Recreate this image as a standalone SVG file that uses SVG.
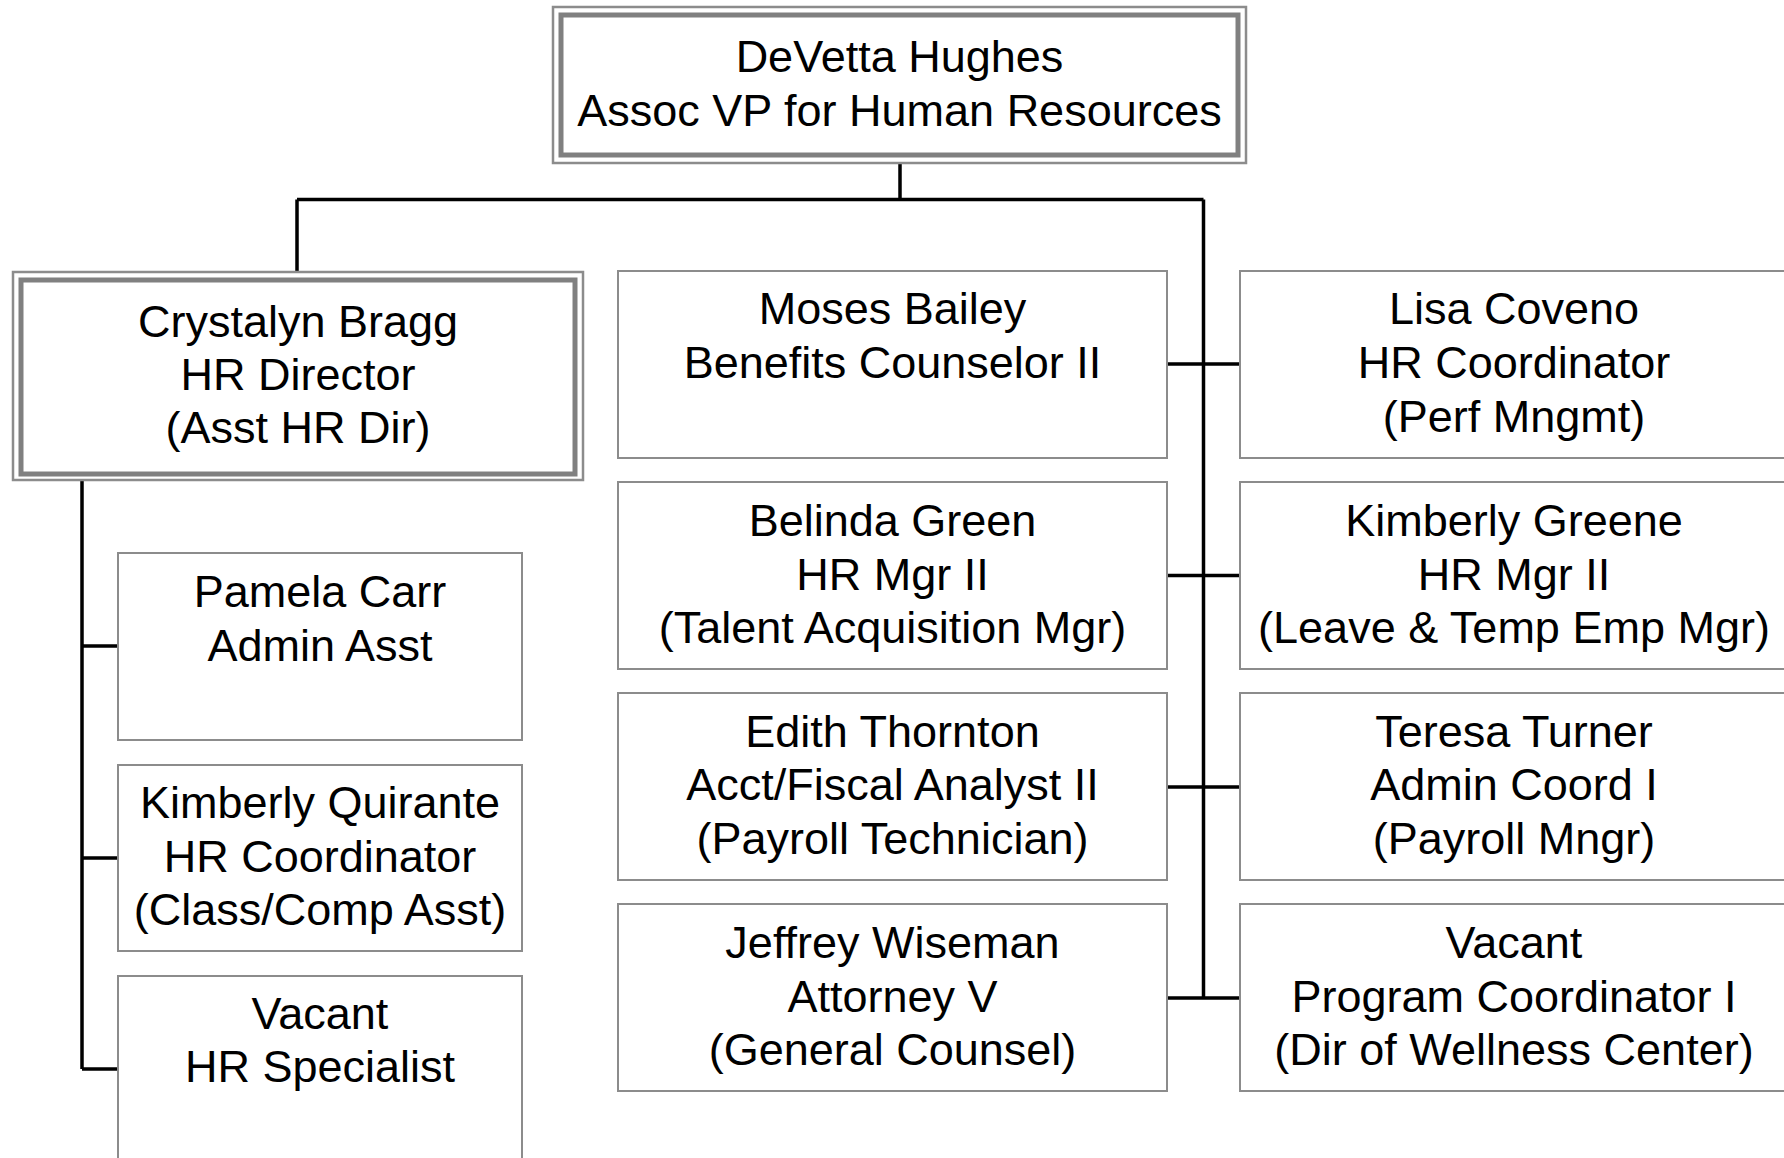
<svg xmlns="http://www.w3.org/2000/svg" width="1784" height="1158" viewBox="0 0 1784 1158">
<style>
  .box { fill: #ffffff; stroke: #8c8c8c; stroke-width: 2; }
  .outer { fill: #ffffff; stroke: #8c8c8c; stroke-width: 2.5; }
  .inner { fill: none; stroke: #808080; stroke-width: 5; }
  .conn { fill: none; stroke: #000000; stroke-width: 3.5; }
  text { font-family: "Liberation Sans", Arial, sans-serif; font-size: 45px; fill: #000000; text-anchor: middle; }
</style>
<rect x="0" y="0" width="1784" height="1158" fill="#ffffff"/>
<g id="connectors">
  <path class="conn" d="M900,163 V199.5 M297,199.5 H1203.5 M297,199.5 V272 M1203.5,199.5 V998"/>
  <path class="conn" d="M1167,364 H1240 M1167,575.5 H1240 M1167,787 H1240 M1167,998 H1240"/>
  <path class="conn" d="M82,480 V1069 M82,646 H118 M82,858 H118 M82,1069 H118"/>
</g>
<g id="node-hughes">
  <rect class="outer" x="553" y="7" width="693" height="156"/>
  <rect class="inner" x="561" y="15" width="677" height="140"/>
  <text x="899.5" y="71.5">DeVetta Hughes</text>
  <text x="899.5" y="125.5">Assoc VP for Human Resources</text>
</g>
<g id="node-bragg">
  <rect class="outer" x="13" y="272" width="570" height="208"/>
  <rect class="inner" x="21" y="280" width="554" height="194"/>
  <text x="298" y="336.5">Crystalyn Bragg</text>
  <text x="298" y="389.5">HR Director</text>
  <text x="298" y="442.5">(Asst HR Dir)</text>
</g>
<g id="node-carr">
  <rect class="box" x="118" y="553" width="404" height="187"/>
  <text x="320" y="607">Pamela Carr</text>
  <text x="320" y="661">Admin Asst</text>
</g>
<g id="node-quirante">
  <rect class="box" x="118" y="765" width="404" height="186"/>
  <text x="320" y="818">Kimberly Quirante</text>
  <text x="320" y="872">HR Coordinator</text>
  <text x="320" y="925">(Class/Comp Asst)</text>
</g>
<g id="node-vacant-hr">
  <rect class="box" x="118" y="976" width="404" height="187"/>
  <text x="320" y="1029">Vacant</text>
  <text x="320" y="1082">HR Specialist</text>
</g>
<g id="node-bailey">
  <rect class="box" x="618" y="271" width="549" height="187"/>
  <text x="892.5" y="324">Moses Bailey</text>
  <text x="892.5" y="378">Benefits Counselor II</text>
</g>
<g id="node-green">
  <rect class="box" x="618" y="482" width="549" height="187"/>
  <text x="892.5" y="536">Belinda Green</text>
  <text x="892.5" y="590">HR Mgr II</text>
  <text x="892.5" y="643">(Talent Acquisition Mgr)</text>
</g>
<g id="node-thornton">
  <rect class="box" x="618" y="693" width="549" height="187"/>
  <text x="892.5" y="747">Edith Thornton</text>
  <text x="892.5" y="800">Acct/Fiscal Analyst II</text>
  <text x="892.5" y="854">(Payroll Technician)</text>
</g>
<g id="node-wiseman">
  <rect class="box" x="618" y="904" width="549" height="187"/>
  <text x="892.5" y="958">Jeffrey Wiseman</text>
  <text x="892.5" y="1012">Attorney V</text>
  <text x="892.5" y="1065">(General Counsel)</text>
</g>
<g id="node-coveno">
  <rect class="box" x="1240" y="271" width="550" height="187"/>
  <text x="1514" y="324">Lisa Coveno</text>
  <text x="1514" y="378">HR Coordinator</text>
  <text x="1514" y="432">(Perf Mngmt)</text>
</g>
<g id="node-greene">
  <rect class="box" x="1240" y="482" width="550" height="187"/>
  <text x="1514" y="536">Kimberly Greene</text>
  <text x="1514" y="590">HR Mgr II</text>
  <text x="1514" y="643">(Leave &amp; Temp Emp Mgr)</text>
</g>
<g id="node-turner">
  <rect class="box" x="1240" y="693" width="550" height="187"/>
  <text x="1514" y="747">Teresa Turner</text>
  <text x="1514" y="800">Admin Coord I</text>
  <text x="1514" y="854">(Payroll Mngr)</text>
</g>
<g id="node-vacant-wellness">
  <rect class="box" x="1240" y="904" width="550" height="187"/>
  <text x="1514" y="958">Vacant</text>
  <text x="1514" y="1012">Program Coordinator I</text>
  <text x="1514" y="1065">(Dir of Wellness Center)</text>
</g>
</svg>
